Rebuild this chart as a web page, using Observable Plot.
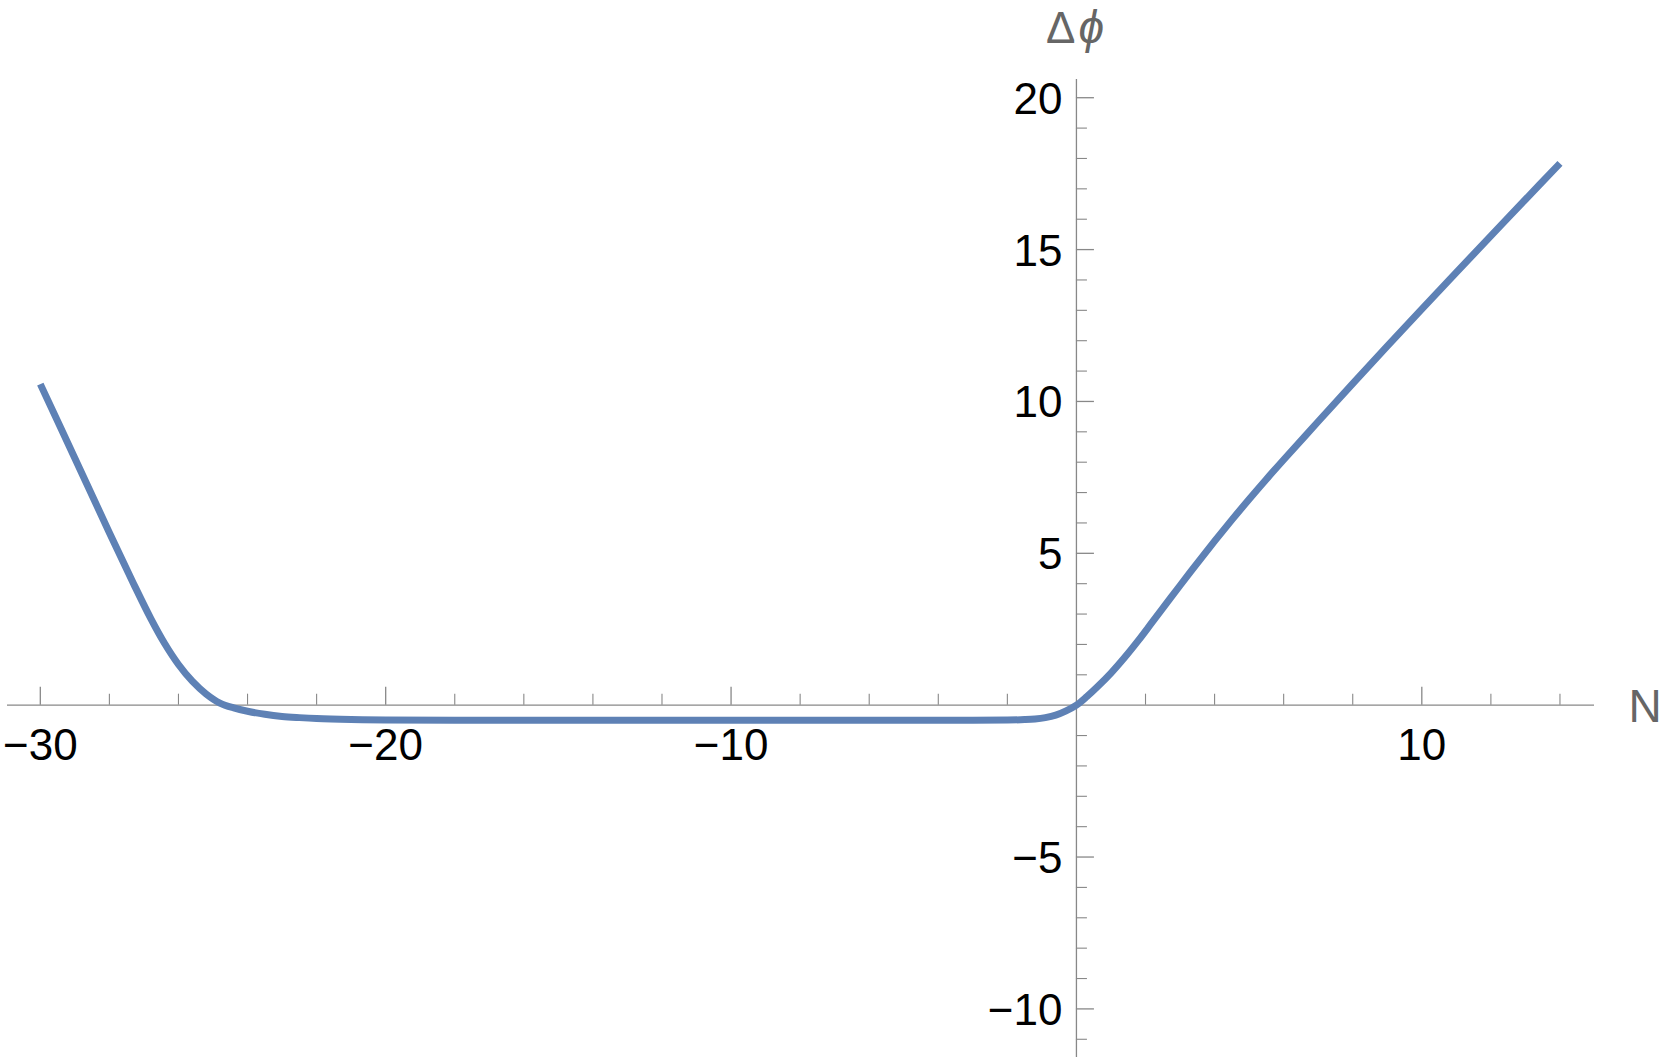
<!DOCTYPE html>
<html>
<head>
<meta charset="utf-8">
<script src="https://cdn.jsdelivr.net/npm/d3@7"></script>
<script src="https://cdn.jsdelivr.net/npm/@observablehq/plot@0.6"></script>
<style>
  html, body { margin: 0; padding: 0; background: #fff; }
  #chart svg { display: block; overflow: visible; background: #fff; }
</style>
</head>
<body>
<div id="chart"></div>
<script>
// ---- data ----
const nValues = [-30, -29, -28, -27.3, -26.8, -26.4, -26.0, -25.6, -25.2, -24.8, -24.4, -24.0, -23.5, -23.0, -22.5, -22, -21, -20, -18, -15, -10, -5, -3, -2, -1.5, -1.2, -0.9, -0.6, -0.3, 0, 0.3, 0.6, 1.0, 1.4, 1.8, 2.2, 2.6, 3.0, 3.5, 4.0, 4.5, 5.0, 5.5, 6.0, 7.0, 8.0, 9.0, 10.0, 11.0, 12.0, 13.0, 14.0];
const dphiValues = [10.57, 8.13, 5.68, 4.0, 2.85, 2.03, 1.34, 0.79, 0.37, 0.07, -0.09, -0.2, -0.3, -0.37, -0.41, -0.44, -0.47, -0.485, -0.495, -0.5, -0.5, -0.5, -0.5, -0.49, -0.475, -0.455, -0.41, -0.33, -0.19, 0, 0.28, 0.595, 1.055, 1.575, 2.14, 2.74, 3.34, 3.94, 4.68, 5.4, 6.1, 6.78, 7.44, 8.08, 9.34, 10.59, 11.82, 13.04, 14.25, 15.45, 16.65, 17.84];

const xMajorTicks = [-30, -20, -10, 10];
const xTickLabels = ["−30", "−20", "−10", "10"];
const xMinorTicks = [-28, -26, -24, -22, -18, -16, -14, -12, -8, -6, -4, -2, 2, 4, 6, 8, 12, 14];
const yMajorTicks = [-10, -5, 5, 10, 15, 20];
const yTickLabels = ["−10", "−5", "5", "10", "15", "20"];
const yMinorTicks = d3.range(-11, 21).filter(v => v !== 0 && v % 5 !== 0);

const xAxisLabel = "N";
const yAxisLabelA = "Δ";
const yAxisLabelB = "ϕ";

// ---- layout / style ----
const W = 1661, H = 1061;
const mL = 7, mR = 67, mT = 79, mB = 4;
const xDomain = [-30.95, 15.0];
const yDomain = [-11.6, 20.6];
const axisColor = "#888888";
const labelGrey = "#666666";
const lineColor = "#5E81B5";
const font = "'Liberation Sans', Arial, Helvetica, sans-serif";

const pxPerX = (W - mL - mR) / (xDomain[1] - xDomain[0]);
const pxPerY = (H - mT - mB) / (yDomain[1] - yDomain[0]);
const majLen = 18, minLen = 11;

const curve = nValues.map((n, i) => ({n, d: dphiValues[i]}));
const xLab = xMajorTicks.map((v, i) => ({v, t: xTickLabels[i]}));
const yLab = yMajorTicks.map((v, i) => ({v, t: yTickLabels[i]}));

const chart = Plot.plot({
  width: W,
  height: H,
  marginLeft: mL,
  marginRight: mR,
  marginTop: mT,
  marginBottom: mB,
  x: {domain: xDomain, axis: null},
  y: {domain: yDomain, axis: null},
  style: {fontFamily: font, background: "#fff", overflow: "visible"},
  marks: [
    // axes lines
    Plot.ruleY([0], {stroke: axisColor, strokeWidth: 1.3}),
    Plot.ruleX([0], {stroke: axisColor, strokeWidth: 1.3}),
    // x ticks (upward)
    Plot.ruleX(xMajorTicks, {x: d => d, y1: 0, y2: majLen / pxPerY, stroke: axisColor, strokeWidth: 1.3}),
    Plot.ruleX(xMinorTicks, {x: d => d, y1: 0, y2: minLen / pxPerY, stroke: axisColor, strokeWidth: 1.1}),
    // y ticks (rightward)
    Plot.ruleY(yMajorTicks, {y: d => d, x1: 0, x2: majLen / pxPerX, stroke: axisColor, strokeWidth: 1.3}),
    Plot.ruleY(yMinorTicks, {y: d => d, x1: 0, x2: minLen / pxPerX, stroke: axisColor, strokeWidth: 1.1}),
    // tick labels
    Plot.text(xLab, {x: "v", y: () => 0, text: "t", textAnchor: "middle", lineAnchor: "bottom", dy: 55, fontSize: 44, fill: "#000"}),
    Plot.text(yLab, {x: () => 0, y: "v", text: "t", textAnchor: "end", lineAnchor: "bottom", dx: -14, dy: 16, fontSize: 44, fill: "#000"}),
    // axis labels
    Plot.text([xAxisLabel], {y: () => 0, frameAnchor: "right", text: d => d, textAnchor: "start", lineAnchor: "bottom", dx: 34, dy: 17, fontSize: 46, fill: labelGrey}),
    Plot.text([yAxisLabelA], {x: () => 0, frameAnchor: "top", text: d => d, textAnchor: "end", lineAnchor: "bottom", dx: -1, dy: -37, fontSize: 44, fill: labelGrey}),
    Plot.text([yAxisLabelB], {x: () => 0, frameAnchor: "top", text: d => d, textAnchor: "start", lineAnchor: "bottom", dx: 2, dy: -37, fontSize: 46, fontStyle: "italic", fill: labelGrey}),
    // curve
    Plot.line(curve, {x: "n", y: "d", stroke: lineColor, strokeWidth: 7, curve: "catmull-rom", strokeLinecap: "butt", strokeLinejoin: "round"})
  ]
});
document.getElementById("chart").appendChild(chart);
</script>
</body>
</html>
